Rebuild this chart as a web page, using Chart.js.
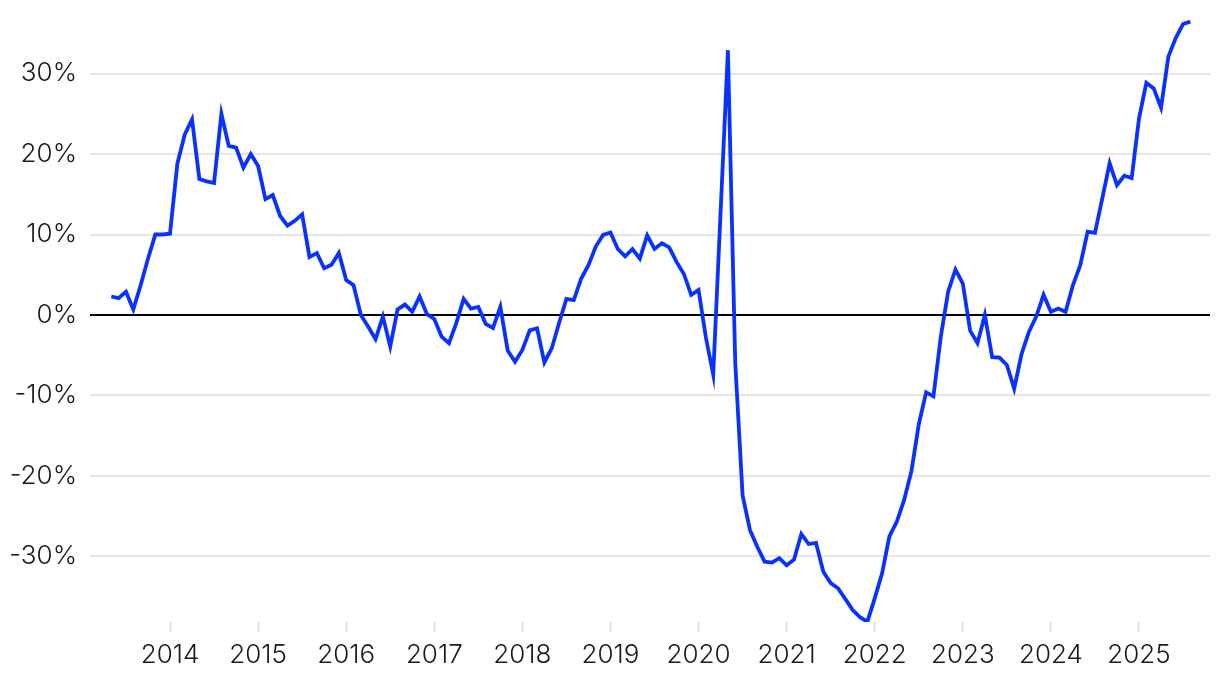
<!DOCTYPE html>
<html lang="en">
<head>
  <meta charset="UTF-8" />
  <title>Year-over-year change</title>
  <script src="https://cdn.jsdelivr.net/npm/chart.js"></script>
  <style>
    html, body {
      margin: 0;
      padding: 0;
      background: #ffffff;
    }
    canvas {
      display: block;
    }
  </style>
</head>
<body>
  <canvas id="yoyChart" width="1220" height="680"></canvas>

  <script>
    // monthly observations, first one is end of April 2013
    const firstYear = 2013;
    const firstMonth = 4;

    const yoyChange = [
      // 2013 (May-Dec)
      2.3, 2.1, 2.9, 0.7, 3.7, 7.0, 10.0, 10.0,
      // 2014
      10.1, 18.8, 22.4, 24.3, 16.9, 16.6, 16.4, 25.0, 21.0, 20.8, 18.3, 20.0,
      // 2015
      18.5, 14.4, 14.9, 12.3, 11.1, 11.7, 12.5, 7.2, 7.7, 5.8, 6.25, 7.7,
      // 2016
      4.35, 3.7, 0.0, -1.45, -3.0, -0.2, -3.9, 0.7, 1.3, 0.4, 2.3, 0.1,
      // 2017
      -0.5, -2.7, -3.5, -1.0, 2.0, 0.8, 1.0, -1.1, -1.6, 1.0, -4.4, -5.8,
      // 2018
      -4.35, -1.9, -1.65, -5.9, -4.15, -1.0, 2.0, 1.85, 4.5, 6.2, 8.5, 9.95,
      // 2019
      10.25, 8.2, 7.3, 8.2, 7.0, 9.9, 8.2, 8.9, 8.4, 6.6, 5.1, 2.5,
      // 2020
      3.1, -2.8, -7.4, 12.7, 32.9, -6.0, -22.4, -26.7, -28.8, -30.65, -30.75, -30.2,
      // 2021
      -31.1, -30.4, -27.2, -28.45, -28.3, -31.9, -33.3, -33.95, -35.3, -36.65, -37.55, -38.1,
      // 2022
      -35.2, -32.1, -27.5, -25.7, -23.0, -19.4, -13.6, -9.6, -10.1, -2.7, 2.9, 5.65,
      // 2023
      3.9, -1.95, -3.5, 0.0, -5.25, -5.3, -6.2, -9.15, -4.85, -2.1, -0.2, 2.5,
      // 2024
      0.4, 0.8, 0.4, 3.7, 6.2, 10.35, 10.2, 14.5, 18.85, 16.15, 17.3, 17.0,
      // 2025 (Jan-Aug)
      24.4, 28.85, 28.15, 25.75, 32.1, 34.4, 36.15, 36.45
    ];

    const yearTicks = [2014, 2015, 2016, 2017, 2018, 2019, 2020, 2021, 2022, 2023, 2024, 2025];
    const percentTicks = [-30, -20, -10, 0, 10, 20, 30];

    const points = yoyChange.map((v, i) => ({
      x: firstYear + (firstMonth + i) / 12,
      y: v
    }));

    const labelFont = { family: 'Inter', size: 26, weight: '300' };

    // keep the plot area where the layout padding puts it
    function noLabelPadding(scale) {
      scale.paddingTop = 0;
      scale.paddingBottom = 0;
      scale.paddingLeft = 0;
      scale.paddingRight = 0;
    }

    const ctx = document.getElementById('yoyChart').getContext('2d');
    new Chart(ctx, {
      type: 'line',
      data: {
        datasets: [{
          data: points,
          borderColor: '#0a32ff',
          borderWidth: 3.8,
          pointRadius: 0,
          tension: 0,
          fill: false
        }]
      },
      options: {
        responsive: false,
        animation: false,
        devicePixelRatio: 1,
        layout: { padding: { top: 20, right: 10, left: 0, bottom: 0 } },
        plugins: {
          legend: { display: false },
          tooltip: { enabled: false }
        },
        scales: {
          x: {
            type: 'linear',
            min: 2013.0917,
            max: 2025.806,
            afterBuildTicks: scale => {
              scale.ticks = yearTicks.map(v => ({ value: v }));
            },
            afterFit: scale => {
              scale.height = 58;
              noLabelPadding(scale);
            },
            border: { display: false },
            grid: {
              drawOnChartArea: false,
              drawTicks: true,
              tickLength: 10,
              tickWidth: 2,
              tickColor: '#e2e2e2'
            },
            ticks: {
              autoSkip: false,
              maxRotation: 0,
              padding: 8,
              color: '#1a1a1a',
              font: labelFont,
              callback: v => String(v)
            }
          },
          y: {
            min: -38.14,
            max: 36.65,
            afterBuildTicks: scale => {
              scale.ticks = percentTicks.map(v => ({ value: v }));
            },
            afterFit: scale => {
              scale.width = 90;
              noLabelPadding(scale);
            },
            border: { display: false },
            grid: {
              drawTicks: false,
              lineWidth: 2,
              color: c => (c.tick && c.tick.value === 0) ? '#000000' : '#e6e6e6'
            },
            ticks: {
              padding: 13,
              color: '#1a1a1a',
              font: labelFont,
              callback: v => v + '%'
            }
          }
        }
      }
    });
  </script>
</body>
</html>
